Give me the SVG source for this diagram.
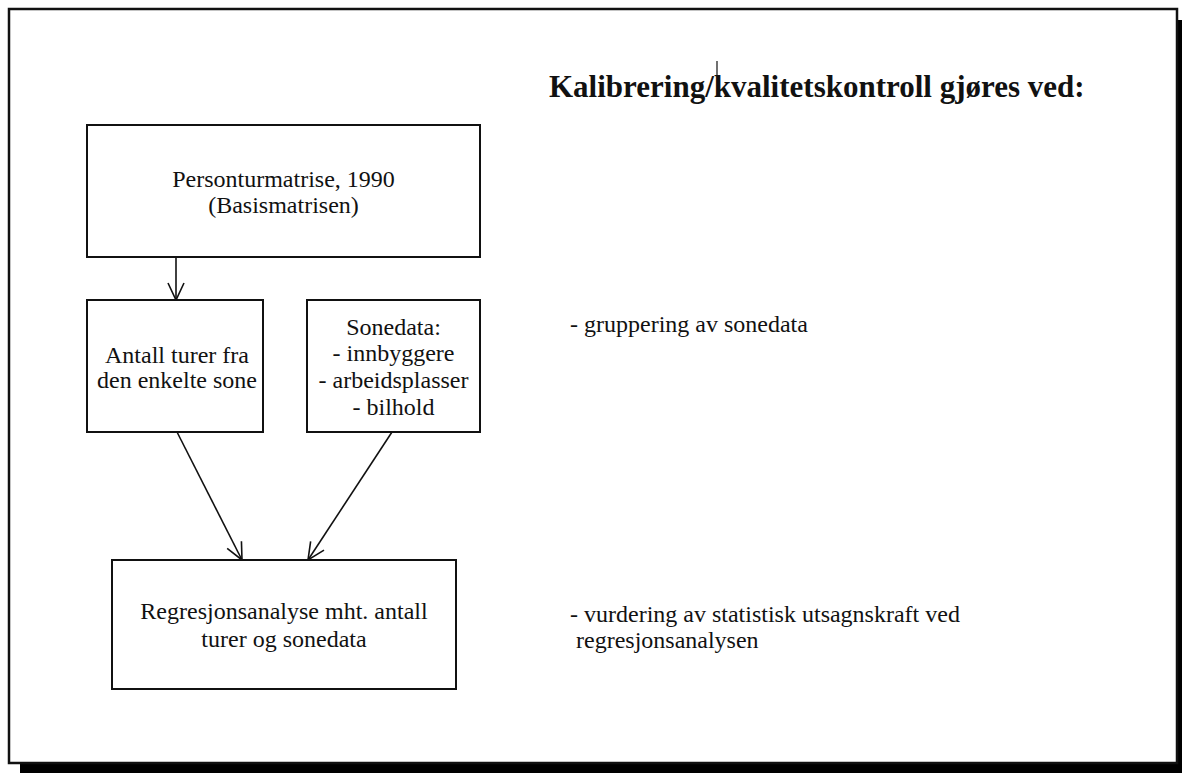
<svg xmlns="http://www.w3.org/2000/svg" width="1182" height="773" viewBox="0 0 1182 773">
  <style>
    .frame { fill: none; stroke: #111; stroke-width: 2.5; }
    .shadow { fill: #000; }
    .box { fill: #fff; stroke: #111; stroke-width: 2; }
    .edge { fill: none; stroke: #111; stroke-width: 1.6; }
    text { font-family: "Liberation Serif", "Times New Roman", serif; fill: #111; }
    .body { font-size: 24px; }
    .mid { text-anchor: middle; }
    .title { font-size: 31px; font-weight: bold; }
  </style>
  <defs>
    <marker id="open-arrow" viewBox="0 0 20 20" refX="18" refY="10" markerWidth="20" markerHeight="20" markerUnits="userSpaceOnUse" orient="auto">
      <path d="M1,2 L18,10 L1,18" fill="none" stroke="#111" stroke-width="1.6"/>
    </marker>
  </defs>

  <rect width="1182" height="773" fill="#fff"/>

  <!-- page frame with drop shadow -->
  <g id="frame">
    <rect class="shadow" x="1177" y="20" width="5" height="753"/>
    <rect class="shadow" x="20" y="763" width="1162" height="10"/>
    <rect class="frame" x="9" y="9" width="1168" height="754"/>
  </g>

  <!-- heading -->
  <g id="heading">
    <text class="title" x="549" y="97">Kalibrering/kvalitetskontroll gjøres ved:</text>
    <line x1="717" y1="61" x2="717" y2="76" stroke="#111" stroke-width="1.2"/>
  </g>

  <g id="connectors">
    <line class="edge" x1="176" y1="257" x2="176" y2="300" marker-end="url(#open-arrow)"/>
    <line class="edge" x1="177" y1="432" x2="242" y2="560" marker-end="url(#open-arrow)"/>
    <line class="edge" x1="392" y1="432" x2="308" y2="560" marker-end="url(#open-arrow)"/>
  </g>

  <g id="node-basismatrise">
    <rect class="box" x="87" y="125" width="393" height="132"/>
    <text class="body mid" x="283.5" y="187">Personturmatrise, 1990</text>
    <text class="body mid" x="283.5" y="213">(Basismatrisen)</text>
  </g>

  <g id="node-antall-turer">
    <rect class="box" x="87" y="300" width="176" height="132"/>
    <text class="body mid" x="177" y="363">Antall turer fra</text>
    <text class="body mid" x="177" y="388">den enkelte sone</text>
  </g>

  <g id="node-sonedata">
    <rect class="box" x="307" y="300" width="173" height="132"/>
    <text class="body mid" x="393.5" y="335">Sonedata:</text>
    <text class="body mid" x="393.5" y="361">- innbyggere</text>
    <text class="body mid" x="393.5" y="388">- arbeidsplasser</text>
    <text class="body mid" x="393.5" y="415">- bilhold</text>
  </g>

  <g id="node-regresjon">
    <rect class="box" x="112" y="560" width="344" height="129"/>
    <text class="body mid" x="284" y="619">Regresjonsanalyse mht. antall</text>
    <text class="body mid" x="284" y="647">turer og sonedata</text>
  </g>

  <!-- notes to the right -->
  <g id="notes">
    <text class="body" x="570" y="332">- gruppering av sonedata</text>
    <text class="body" x="570" y="622">- vurdering av statistisk utsagnskraft ved</text>
    <text class="body" x="576" y="648">regresjonsanalysen</text>
  </g>
</svg>
